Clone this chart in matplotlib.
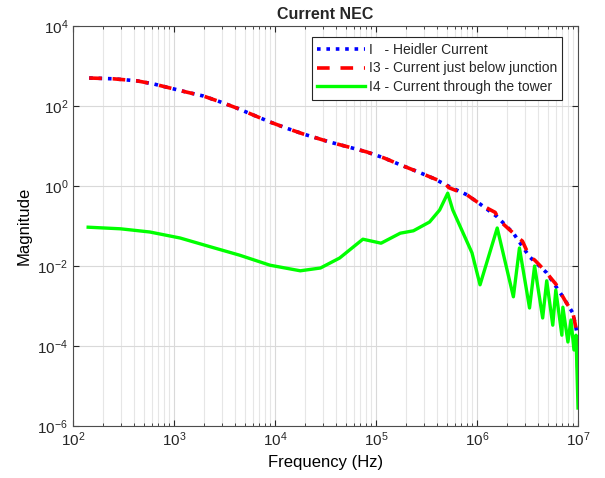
import matplotlib
matplotlib.use('Agg')
import matplotlib.pyplot as plt
from matplotlib.ticker import LogLocator, NullLocator
import numpy as np

# Frequency-domain magnitudes (log10 values read from the sweep)
F_I = [2.16, 2.40, 2.63, 2.80, 2.96, 3.12, 3.29, 3.45, 3.62, 3.78, 3.95, 4.12,
       4.28, 4.54, 4.72, 4.91, 5.08, 5.24, 5.40, 5.56, 5.73, 5.90, 6.03, 6.12,
       6.20, 6.36, 6.52, 6.69, 6.85, 6.95, 6.99, 7.00]
MAG_I = [2.70, 2.68, 2.63, 2.55, 2.45, 2.35, 2.25, 2.11, 1.95, 1.78, 1.60, 1.44,
         1.30, 1.10, 0.98, 0.85, 0.70, 0.53, 0.37, 0.20, -0.02, -0.22, -0.45, -0.62,
         -0.77, -1.18, -1.77, -2.17, -2.77, -3.18, -3.68, -4.85]

F_I3 = [2.16, 2.40, 2.63, 2.80, 2.96, 3.12, 3.29, 3.45, 3.62, 3.78, 3.95, 4.12,
        4.28, 4.54, 4.72, 4.91, 5.08, 5.24, 5.40, 5.56, 5.64, 5.68, 5.72, 5.78,
        5.90, 6.03, 6.12, 6.18, 6.22, 6.36, 6.41, 6.45, 6.52, 6.57, 6.62,
        6.69, 6.73, 6.78, 6.85, 6.88, 6.95, 6.99, 7.00]
MAG_I3 = [2.70, 2.68, 2.63, 2.55, 2.45, 2.35, 2.25, 2.11, 1.95, 1.78, 1.60, 1.44,
          1.30, 1.10, 0.98, 0.85, 0.70, 0.53, 0.37, 0.20, 0.12, 0.08, -0.04, -0.10,
          -0.22, -0.45, -0.58, -0.66, -0.86, -1.18, -1.30, -1.38, -1.77,
          -1.85, -1.98, -2.17, -2.30, -2.45, -2.77, -2.90, -3.18, -3.68, -4.85]

F_I4 = [2.15, 2.47, 2.76, 3.06, 3.36, 3.65, 3.95, 4.25, 4.45, 4.64, 4.87, 5.05,
        5.24, 5.37, 5.53, 5.63, 5.71, 5.76, 5.95, 6.03, 6.20, 6.36, 6.42, 6.52,
        6.57, 6.65, 6.69, 6.75, 6.78, 6.84, 6.85, 6.90, 6.93, 6.96, 6.98, 7.00]
MAG_I4 = [-1.03, -1.07, -1.15, -1.30, -1.52, -1.73, -1.98, -2.12, -2.05, -1.80,
          -1.33, -1.43, -1.18, -1.12, -0.90, -0.60, -0.18, -0.60, -1.67, -2.47,
          -1.05, -2.77, -1.55, -3.05, -2.00, -3.30, -2.37, -3.48, -2.60, -3.73,
          -3.03, -3.90, -3.35, -4.10, -3.73, -5.55]

LABELS = ["I   - Heidler Current",
          "I3 - Current just below junction",
          "I4 - Current through the tower"]

plt.rcParams.update({
    "font.family": "Liberation Sans",
    "font.size": 11,
    "axes.edgecolor": "#262626",
    "xtick.color": "#262626",
    "ytick.color": "#262626",
    "text.color": "#262626",
})

fig = plt.figure(figsize=(6.05, 4.78), dpi=100)
ax = fig.add_axes([0.1207, 0.1088, 0.8347, 0.8368])

ax.plot(10 ** np.array(F_I), 10 ** np.array(MAG_I), color='#0000FF',
        linestyle=(0, (1, 1.6)), linewidth=2.6, label=LABELS[0])
ax.plot(10 ** np.array(F_I3), 10 ** np.array(MAG_I3), color='#FF0000',
        linestyle=(0, (3.5, 3)), linewidth=2.6, label=LABELS[1])
ax.plot(10 ** np.array(F_I4), 10 ** np.array(MAG_I4), color='#00FF00',
        linestyle='-', linewidth=2.4, label=LABELS[2])

ax.set_xscale('log')
ax.set_yscale('log')
ax.set_xlim(1e2, 1e7)
ax.set_ylim(1e-6, 1e4)
ax.set_yticks([1e-6, 1e-4, 1e-2, 1e0, 1e2, 1e4])
ax.yaxis.set_minor_locator(NullLocator())
ax.xaxis.set_minor_locator(LogLocator(base=10, subs=np.arange(2, 10)))

ax.grid(True, which='major', color='#d9d9d9', linewidth=0.8)
ax.grid(True, which='minor', axis='x', color='#e6e6e6', linewidth=0.8)
ax.set_axisbelow(True)

ax.tick_params(which='both', direction='in', top=True, right=True)
ax.tick_params(which='major', length=4, labelsize=11)
ax.tick_params(which='minor', length=2)
for s in ax.spines.values():
    s.set_color('#4d4d4d')

ax.set_xlabel("Frequency (Hz)", fontsize=12)
ax.set_ylabel("Magnitude", fontsize=12)
ax.set_title("Current NEC", fontsize=11.5, fontweight='bold', pad=5)

leg = ax.legend(loc='upper right', bbox_to_anchor=(0.983, 0.99), fontsize=10,
                handlelength=3.4, handletextpad=0.3, borderpad=0.4,
                labelspacing=0.35, fancybox=False, framealpha=1)
leg.get_frame().set_edgecolor('#262626')
leg.get_frame().set_linewidth(0.8)

fig.savefig("out.png", dpi=100)
